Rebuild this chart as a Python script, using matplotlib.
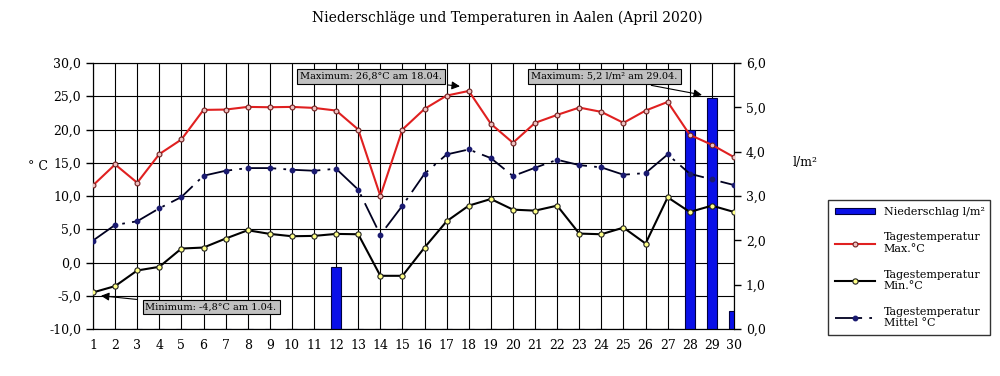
import numpy as np
import matplotlib
matplotlib.use('Agg')
import matplotlib.pyplot as plt
from matplotlib.ticker import FuncFormatter

plt.rcParams['font.family'] = ['DejaVu Serif']

# Data (April 2020, Aalen)
days = list(range(1, 31))
t_max = [11.6, 14.75, 12.0, 16.3, 18.5, 22.95, 23.0, 23.4, 23.35, 23.4,
         23.25, 22.85, 20.0, 10.0, 20.0, 23.1, 25.1, 25.8, 20.85, 18.0,
         21.0, 22.2, 23.3, 22.65, 21.0, 22.85, 24.15, 19.2, 17.7, 15.85]
t_min = [-4.5, -3.55, -1.2, -0.65, 2.1, 2.25, 3.6, 4.85, 4.3, 3.95,
         4.0, 4.3, 4.25, -2.0, -2.0, 2.25, 6.2, 8.55, 9.55, 7.95,
         7.8, 8.55, 4.35, 4.25, 5.25, 2.85, 9.8, 7.6, 8.55, 7.6]
t_mean = [3.3, 5.65, 6.2, 8.15, 9.85, 13.05, 13.8, 14.2, 14.2, 13.95,
          13.8, 14.1, 10.95, 4.15, 8.55, 13.35, 16.25, 17.0, 15.7, 13.0,
          14.25, 15.45, 14.65, 14.3, 13.2, 13.45, 16.25, 13.35, 12.5, 11.65]
precip = [0, 0, 0, 0, 0, 0, 0, 0, 0, 0,
          0, 1.4, 0, 0, 0, 0, 0, 0, 0, 0,
          0, 0, 0, 0, 0, 0, 0, 4.5, 5.2, 0.4]

temp_ticks = [-10, -5, 0, 5, 10, 15, 20, 25, 30]
precip_ticks = [0, 1, 2, 3, 4, 5, 6]


def comma(v, pos=None):
    return '{:.1f}'.format(v).replace('.', ',')


fig = plt.figure(figsize=(10, 3.76), dpi=100)
rect = [0.093, 0.125, 0.641, 0.7074]

# temperature axis with grid (bottom layer)
ax = fig.add_axes(rect)
ax.set_xlim(1, 30)
ax.set_ylim(-10, 30)
ax.set_xticks(days)
ax.set_yticks(temp_ticks)
ax.yaxis.set_major_formatter(FuncFormatter(comma))
ax.grid(True, color='black', linewidth=0.8)
ax.set_axisbelow(True)
ax.tick_params(axis='x', length=0, pad=7, labelsize=9)
ax.tick_params(axis='y', length=5, width=1, labelsize=9, direction='out')
for s in ax.spines.values():
    s.set_color('black')
ax.spines['top'].set_color('#888888')

# precipitation axis (bars above the grid)
ax2 = ax.twinx()
ax2.bar(days, precip, width=0.45, color='#0a10e8', edgecolor='#000040',
        linewidth=0.8, label='Niederschlag l/m²')
ax2.set_ylim(0, 6)
ax2.set_yticks(precip_ticks)
ax2.yaxis.set_major_formatter(FuncFormatter(comma))
ax2.tick_params(axis='y', length=5, width=1, labelsize=9, direction='out')
ax2.set_xlim(1, 30)

# lines on top of bars
ax3 = fig.add_axes(rect, sharex=ax, sharey=ax)
ax3.patch.set_visible(False)
ax3.axis('off')
ax3.plot(days, t_max, color='#e02020', lw=1.5, marker='o', ms=3.5,
         mfc='#f0c0c0', mec='#702020', mew=0.8,
         label='Tagestemperatur\nMax.°C')
ax3.plot(days, t_min, color='black', lw=1.5, marker='o', ms=3.8,
         mfc='#ffff88', mec='#202020', mew=0.8,
         label='Tagestemperatur\nMin.°C')
ax3.plot(days, t_mean, color='#000020', lw=1.3, ls=(0, (15, 4, 1.5, 4)),
         marker='o', ms=3.2, mfc='#1a1a70', mec='#1a1a70',
         label='Tagestemperatur\nMittel °C')
ax3.set_xlim(1, 30)
ax3.set_ylim(-10, 30)

box = dict(boxstyle='square,pad=0.3', fc='#c0c0c0', ec='black', lw=0.8)
arrow = dict(arrowstyle='-|>', color='black', lw=0.8, mutation_scale=12,
             shrinkA=4, shrinkB=0)
ax3.annotate('Maximum: 26,8°C am 18.04.', xy=(17.6, 26.5), xytext=(13.58, 27.97),
             ha='center', va='center', fontsize=7, bbox=box, arrowprops=arrow,
             annotation_clip=False)
ax3.annotate('Maximum: 5,2 l/m² am 29.04.', xy=(28.55, 25.2), xytext=(24.14, 27.97),
             ha='center', va='center', fontsize=7, bbox=box, arrowprops=arrow,
             annotation_clip=False)
ax3.annotate('Minimum: -4,8°C am 1.04.', xy=(1.36, -5.0), xytext=(6.34, -6.7),
             ha='center', va='center', fontsize=7, bbox=box, arrowprops=arrow,
             annotation_clip=False)

fig.text(0.507, 0.952, 'Niederschläge und Temperaturen in Aalen (April 2020)',
         ha='center', va='center', fontsize=10)
fig.text(0.028, 0.556, '° C', ha='left', va='center', fontsize=9)
fig.text(0.793, 0.568, 'l/m²', ha='left', va='center', fontsize=9)

h2, l2 = ax2.get_legend_handles_labels()
h3, l3 = ax3.get_legend_handles_labels()
leg = fig.legend(h2 + h3, l2 + l3, loc='lower left',
                 bbox_to_anchor=(0.828, 0.109, 0.162, 0.362), mode='expand',
                 fontsize=8, frameon=True, fancybox=False, edgecolor='black',
                 handlelength=3.6, labelspacing=1.4, borderpad=0.6,
                 numpoints=1, handleheight=0.5, borderaxespad=0)
leg.get_frame().set_linewidth(1.0)

fig.savefig('out.png', dpi=100)
